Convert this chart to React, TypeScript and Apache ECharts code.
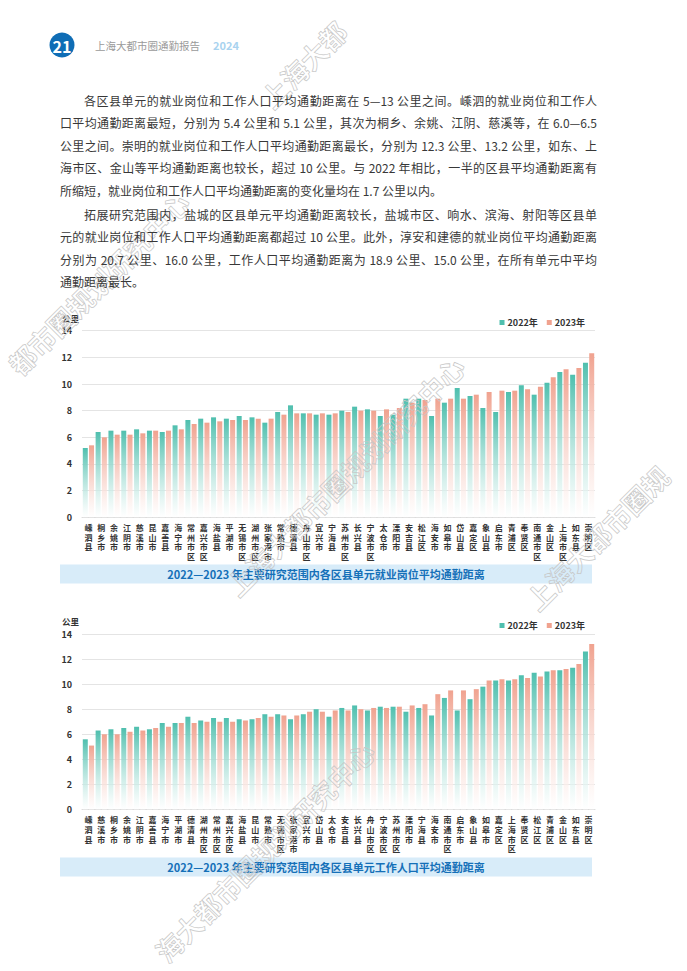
import React, { useEffect, useRef } from "react";
import * as echarts from "echarts";

// ---------- data ----------
const jobCategories = ["嵊泗县", "桐乡市", "余姚市", "江阴市", "慈溪市", "昆山市", "嘉善县", "海宁市", "常州市区", "嘉兴市区", "海盐县", "平湖市", "无锡市区", "湖州市区", "张家港市", "常熟市", "德清县", "舟山市区", "宜兴市", "宁海县", "苏州市区", "长兴县", "宁波市区", "太仓市", "溧阳市", "安吉县", "松江区", "海安市", "如皋市", "岱山县", "嘉定区", "象山县", "启东市", "青浦区", "奉贤区", "南通市区", "金山区", "上海市区", "如东县", "崇明区"];
const jobs2022 = [5.2, 6.4, 6.5, 6.5, 6.6, 6.5, 6.4, 6.9, 7.3, 7.4, 7.5, 7.4, 7.6, 7.5, 7.1, 7.9, 8.4, 7.8, 7.7, 7.7, 8.0, 8.3, 8.1, 7.6, 7.7, 8.9, 8.9, 7.6, 8.6, 9.7, 9.1, 8.2, 7.9, 9.4, 9.9, 9.2, 10.1, 10.9, 10.7, 11.6];
const jobs2023 = [5.4, 6.0, 6.2, 6.2, 6.3, 6.5, 6.5, 6.6, 7.0, 7.1, 7.2, 7.3, 7.3, 7.4, 7.4, 7.7, 7.8, 7.8, 7.8, 7.8, 7.9, 8.0, 8.0, 8.1, 8.2, 8.6, 8.8, 8.9, 8.9, 8.9, 9.2, 9.4, 9.5, 9.5, 9.6, 9.8, 10.5, 11.1, 11.2, 12.3];

const workerCategories = ["嵊泗县", "慈溪市", "桐乡市", "余姚市", "江阴市", "嘉善县", "海宁市", "平湖市", "德清县", "湖州市区", "常州市区", "嘉兴市区", "海盐县", "昆山市", "常熟市", "无锡市区", "张家港市", "宜兴市", "岱山县", "太仓市", "安吉县", "长兴县", "舟山市区", "宁波市区", "苏州市区", "溧阳市", "宁海县", "海安市", "南通市区", "启东市", "象山县", "如皋市", "嘉定区", "上海市区", "奉贤区", "松江区", "青浦区", "金山区", "如东县", "崇明区"];
const workers2022 = [5.6, 6.3, 6.4, 6.5, 6.6, 6.4, 6.9, 6.9, 7.4, 7.1, 7.3, 7.3, 7.2, 7.2, 7.6, 7.6, 7.2, 7.6, 8.0, 7.4, 8.1, 8.3, 7.9, 8.2, 8.2, 7.8, 8.1, 7.5, 8.9, 7.9, 8.8, 9.8, 10.3, 10.3, 10.7, 10.9, 11.0, 11.1, 11.3, 12.6];
const workers2023 = [5.1, 6.0, 6.0, 6.2, 6.3, 6.5, 6.6, 6.9, 6.9, 7.0, 7.0, 7.0, 7.1, 7.3, 7.4, 7.5, 7.5, 7.8, 7.8, 7.9, 7.9, 8.0, 8.1, 8.1, 8.2, 8.3, 8.4, 9.2, 9.5, 9.5, 9.6, 10.3, 10.4, 10.4, 10.5, 10.6, 11.1, 11.2, 11.6, 13.2];

const seriesNames = ["2022年", "2023年"];
const yUnit = "公里";
const yMin = 0;
const yMax = 14;
const yInterval = 2;
const chartTitles = [
  "2022—2023 年主要研究范围内各区县单元就业岗位平均通勤距离",
  "2022—2023 年主要研究范围内各区县单元工作人口平均通勤距离",
];
const pageNumber = "21";
const headerTitle = "上海大都市圈通勤报告";
const headerYear = "2024";
const watermarkText = "上海大都市圈规划研究中心";

const paragraph1 = [
  "各区县单元的就业岗位和工作人口平均通勤距离在 5—13 公里之间。嵊泗的就业岗位和工作人",
  "口平均通勤距离最短，分别为 5.4 公里和 5.1 公里，其次为桐乡、余姚、江阴、慈溪等，在 6.0—6.5",
  "公里之间。崇明的就业岗位和工作人口平均通勤距离最长，分别为 12.3 公里、13.2 公里，如东、上",
  "海市区、金山等平均通勤距离也较长，超过 10 公里。与 2022 年相比，一半的区县平均通勤距离有",
  "所缩短，就业岗位和工作人口平均通勤距离的变化量均在 1.7 公里以内。",
];
const paragraph2 = [
  "拓展研究范围内，盐城的区县单元平均通勤距离较长，盐城市区、响水、滨海、射阳等区县单",
  "元的就业岗位和工作人口平均通勤距离都超过 10 公里。此外，淳安和建德的就业岗位平均通勤距离",
  "分别为 20.7 公里、16.0 公里，工作人口平均通勤距离为 18.9 公里、15.0 公里，在所有单元中平均",
  "通勤距离最长。",
];

// ---------- styles ----------
const FONT = '"Noto Sans CJK SC", "Noto Sans", sans-serif';
const TEAL = "#4fbfae";
const SALMON = "#f0a28f";
const W = 687;
const H = 971;

function grad(c: string) {
  return new echarts.graphic.LinearGradient(0, 0, 0, 1, [
    { offset: 0, color: c },
    { offset: 1, color: "rgba(255,255,255,0.6)" },
  ]);
}

export default function App() {
  const ref = useRef<HTMLDivElement>(null);

  useEffect(() => {
    if (!ref.current) return;
    const chart = echarts.init(ref.current, null, { renderer: "svg", width: W, height: H });

    const grids = [
      { left: 82, width: 513, top: 330.7, height: 186.6 },
      { left: 82, width: 513, top: 634, height: 175.5 },
    ];
    const cats = [jobCategories, workerCategories];
    const data = [
      [jobs2022, jobs2023],
      [workers2022, workers2023],
    ];
    const titleY = [574, 867];
    const unitY = [318, 621];
    const legendTop = [313, 616];

    const xAxis = cats.map((c, i) => ({
      type: "category",
      gridIndex: i,
      data: c,
      axisLine: { show: true, lineStyle: { color: "#dcdcdc" } },
      axisTick: { show: false },
      axisLabel: {
        interval: 0,
        margin: 5.5,
        fontSize: 8,
        lineHeight: 9.6,
        fontFamily: FONT,
        fontWeight: "bold",
        color: "#333",
        formatter: (v: string) => v.split("").join("\n"),
      },
    }));
    const yAxis = grids.map((_, i) => ({
      type: "value",
      gridIndex: i,
      min: yMin,
      max: yMax,
      interval: yInterval,
      axisLine: { show: false },
      axisTick: { show: false },
      splitLine: { lineStyle: { color: "#e4e4e4", width: 1 } },
      axisLabel: { fontSize: 9, fontFamily: FONT, fontWeight: "bold", color: "#333", margin: 10 },
    }));
    const series: any[] = [];
    data.forEach((pair, gi) => {
      pair.forEach((vals, si) => {
        series.push({
          name: seriesNames[si],
          type: "bar",
          xAxisIndex: gi,
          yAxisIndex: gi,
          data: vals,
          barWidth: 5,
          barGap: "25%",
          itemStyle: { color: grad(si === 0 ? TEAL : SALMON) },
        });
      });
    });
    const legend = legendTop.map((t) => ({
      top: t,
      right: 97,
      itemWidth: 5,
      itemHeight: 5,
      itemGap: 9,
      icon: "rect",
      textStyle: { fontSize: 9, fontWeight: "bold", color: "#333", fontFamily: FONT, padding: [0, 0, 0, -2] },
      data: [
        { name: seriesNames[0], itemStyle: { color: TEAL } },
        { name: seriesNames[1], itemStyle: { color: SALMON } },
      ],
    }));

    // watermark lines: centre of the full 12-char line, and the visible char range
    const STEP = 27;
    const marks = [
      { x: 70, y: 312, a: 3, b: 11 },
      { x: 380, y: -12, a: 0, b: 3 },
      { x: 345, y: 476, a: 0, b: 11 },
      { x: 645, y: 490, a: 0, b: 6 },
      { x: 255, y: 861, a: 1, b: 11 },
    ];
    const graphic: any[] = [
      { type: "circle", shape: { cx: 62, cy: 45, r: 12.5 }, style: { fill: "#0f6db5" } },
      {
        type: "text",
        x: 62,
        y: 45.5,
        style: { text: pageNumber, fill: "#fff", fontSize: 16, fontWeight: "bold", fontFamily: FONT, align: "center", verticalAlign: "middle" },
      },
      {
        type: "text",
        x: 95,
        y: 45,
        style: { text: headerTitle, fill: "#9a9a9a", fontSize: 10.5, fontFamily: FONT, align: "left", verticalAlign: "middle" },
      },
      {
        type: "text",
        x: 213,
        y: 45,
        style: { text: headerYear, fill: "#a9d3ef", fontSize: 11, fontWeight: "bold", fontFamily: FONT, align: "left", verticalAlign: "middle" },
      },
    ];
    titleY.forEach((ty, i) => {
      graphic.push({ type: "rect", shape: { x: 60, y: ty - 9.5, width: 532, height: 19 }, style: { fill: "#d8ecf9" } });
      graphic.push({
        type: "text",
        x: 326,
        y: ty,
        style: { text: chartTitles[i], fill: "#1570b8", fontSize: 11, fontWeight: "bold", fontFamily: FONT, align: "center", verticalAlign: "middle" },
      });
      graphic.push({
        type: "text",
        x: 62,
        y: unitY[i],
        style: { text: yUnit, fill: "#333", fontSize: 8.5, fontWeight: "bold", fontFamily: FONT, align: "left", verticalAlign: "middle" },
      });
    });
    const c45 = Math.SQRT1_2;
    marks.forEach((m) => {
      const off = ((m.a + m.b) / 2 - 5.5) * STEP;
      graphic.push({
        type: "text",
        x: m.x + off * c45,
        y: m.y - off * c45,
        rotation: Math.PI / 4,
        z: 100,
        silent: true,
        style: {
          text: watermarkText.slice(m.a, m.b + 1),
          fontSize: 27,
          fontWeight: "bold",
          fontFamily: FONT,
          fill: "rgba(255,255,255,0)",
          stroke: "#c6c6c6",
          lineWidth: 0.7,
          align: "center",
          verticalAlign: "middle",
        },
      });
    });

    chart.setOption({
      animation: false,
      backgroundColor: "#ffffff",
      grid: grids,
      xAxis,
      yAxis,
      legend,
      series,
      graphic,
    });
    return () => chart.dispose();
  }, []);

  const LH = 22.5;
  const lineStyle = (first: boolean, last: boolean): React.CSSProperties => ({
    height: LH,
    lineHeight: LH + "px",
    textAlign: last ? "left" : "justify",
    textAlignLast: last ? "left" : "justify",
    textIndent: first ? "2em" : 0,
    whiteSpace: "nowrap",
  } as any);
  const para = (lines: string[], top: number) => (
    <div
      style={{
        position: "absolute",
        left: 60,
        top,
        width: 537,
        fontFamily: FONT,
        fontSize: 12,
        color: "#383838",
      }}
    >
      {lines.map((l, i) => (
        <div key={i} style={lineStyle(i === 0, i === lines.length - 1)}>
          {l}
        </div>
      ))}
    </div>
  );

  return (
    <div style={{ position: "absolute", left: 0, top: 0, width: W, height: H, overflow: "hidden", background: "#fff" }}>
      <div ref={ref} style={{ position: "absolute", left: 0, top: 0, width: W, height: H }} />
      {para(paragraph1, 101 - LH / 2)}
      {para(paragraph2, 215 - LH / 2)}
    </div>
  );
}
